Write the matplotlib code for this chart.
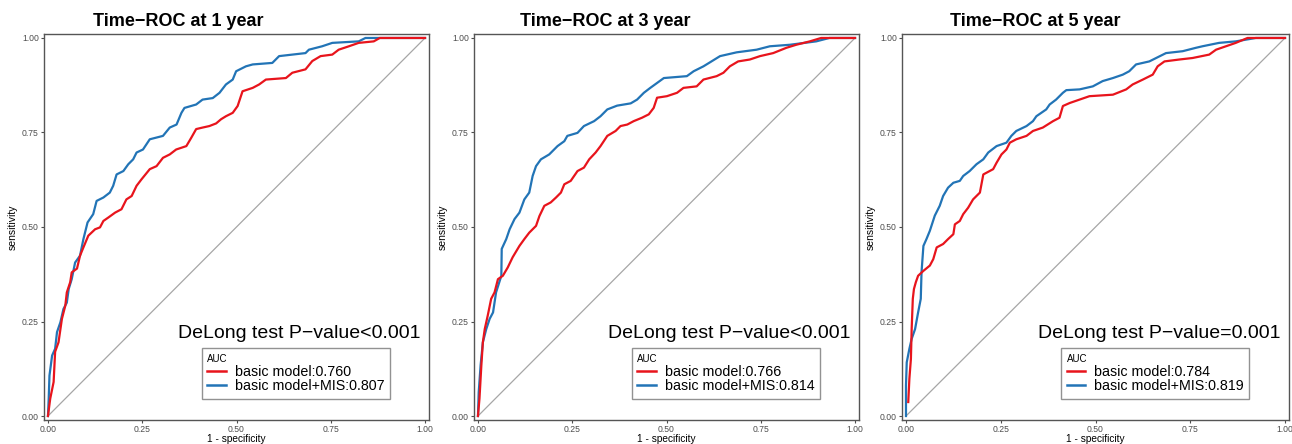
import matplotlib
matplotlib.use("Agg")
import matplotlib.pyplot as plt
from matplotlib.lines import Line2D

plt.rcParams['font.family'] = ['Liberation Sans', 'DejaVu Sans']

titles = ["Time\u2212ROC at 1 year", "Time\u2212ROC at 3 year", "Time\u2212ROC at 5 year"]
pvalue_texts = ["DeLong test P\u2212value<0.001", "DeLong test P\u2212value<0.001", "DeLong test P\u2212value=0.001"]
auc_basic = ["0.760", "0.766", "0.784"]
auc_mis = ["0.807", "0.814", "0.819"]
tick_values = [0.0, 0.25, 0.5, 0.75, 1.0]
tick_labels = ["0.00", "0.25", "0.50", "0.75", "1.00"]

# Panel 1 (1 year)
fpr_basic_1 = [0, 0.006, 0.015, 0.019, 0.028, 0.037, 0.046, 0.05, 0.059, 0.063, 0.077, 0.085, 0.094, 0.107, 0.125, 0.138, 0.147, 0.16, 0.178, 0.195, 0.208, 0.222, 0.235, 0.248, 0.27, 0.288, 0.305, 0.323, 0.34, 0.367, 0.38, 0.393, 0.41, 0.428, 0.446, 0.459, 0.472, 0.49, 0.503, 0.516, 0.543, 0.56, 0.578, 0.631, 0.648, 0.683, 0.701, 0.723, 0.754, 0.771, 0.798, 0.824, 0.864, 0.88, 1.0]
tpr_basic_1 = [0, 0.046, 0.09, 0.17, 0.195, 0.257, 0.292, 0.327, 0.354, 0.38, 0.39, 0.424, 0.446, 0.477, 0.494, 0.499, 0.516, 0.525, 0.538, 0.547, 0.573, 0.582, 0.609, 0.626, 0.653, 0.661, 0.683, 0.692, 0.705, 0.714, 0.736, 0.759, 0.763, 0.767, 0.774, 0.785, 0.793, 0.802, 0.82, 0.859, 0.868, 0.877, 0.89, 0.894, 0.908, 0.917, 0.939, 0.952, 0.956, 0.969, 0.978, 0.987, 0.991, 1.0, 1.0]
fpr_mis_1 = [0, 0.002, 0.004, 0.011, 0.019, 0.024, 0.033, 0.041, 0.05, 0.055, 0.063, 0.072, 0.085, 0.094, 0.105, 0.12, 0.129, 0.147, 0.164, 0.173, 0.182, 0.2, 0.213, 0.226, 0.235, 0.252, 0.27, 0.305, 0.323, 0.341, 0.354, 0.362, 0.393, 0.41, 0.437, 0.455, 0.472, 0.49, 0.499, 0.525, 0.543, 0.595, 0.613, 0.683, 0.692, 0.727, 0.754, 0.824, 0.842, 1.0]
tpr_mis_1 = [0, 0.046, 0.107, 0.16, 0.178, 0.222, 0.248, 0.283, 0.3, 0.336, 0.362, 0.406, 0.424, 0.468, 0.512, 0.534, 0.569, 0.578, 0.591, 0.609, 0.639, 0.648, 0.666, 0.679, 0.697, 0.705, 0.732, 0.741, 0.763, 0.771, 0.802, 0.815, 0.824, 0.837, 0.841, 0.855, 0.877, 0.89, 0.912, 0.925, 0.93, 0.934, 0.952, 0.96, 0.969, 0.978, 0.987, 0.991, 1.0, 1.0]

# Panel 2 (3 year)
fpr_basic_3 = [0, 0.004, 0.009, 0.013, 0.018, 0.026, 0.035, 0.044, 0.053, 0.066, 0.079, 0.092, 0.11, 0.123, 0.136, 0.154, 0.163, 0.176, 0.193, 0.207, 0.22, 0.229, 0.246, 0.264, 0.281, 0.295, 0.312, 0.325, 0.343, 0.365, 0.378, 0.396, 0.413, 0.435, 0.453, 0.466, 0.475, 0.501, 0.528, 0.545, 0.58, 0.598, 0.633, 0.651, 0.668, 0.69, 0.721, 0.748, 0.783, 0.818, 0.844, 0.88, 0.91, 1.0]
tpr_basic_3 = [0, 0.046, 0.134, 0.195, 0.23, 0.266, 0.31, 0.327, 0.362, 0.371, 0.393, 0.42, 0.45, 0.468, 0.485, 0.503, 0.529, 0.556, 0.565, 0.578, 0.591, 0.613, 0.622, 0.648, 0.657, 0.679, 0.697, 0.714, 0.741, 0.754, 0.767, 0.771, 0.78, 0.789, 0.798, 0.815, 0.842, 0.846, 0.855, 0.868, 0.872, 0.89, 0.899, 0.908, 0.925, 0.938, 0.943, 0.952, 0.96, 0.974, 0.982, 0.991, 1.0, 1.0]
fpr_mis_3 = [0, 0.002, 0.007, 0.013, 0.022, 0.031, 0.04, 0.048, 0.062, 0.063, 0.075, 0.084, 0.097, 0.11, 0.123, 0.136, 0.145, 0.154, 0.167, 0.189, 0.211, 0.229, 0.237, 0.264, 0.281, 0.308, 0.325, 0.343, 0.369, 0.405, 0.422, 0.44, 0.457, 0.475, 0.493, 0.554, 0.572, 0.598, 0.616, 0.642, 0.686, 0.739, 0.774, 0.827, 0.897, 0.932, 1.0]
tpr_mis_3 = [0, 0.063, 0.134, 0.195, 0.23, 0.257, 0.274, 0.327, 0.371, 0.442, 0.468, 0.494, 0.521, 0.538, 0.573, 0.591, 0.635, 0.661, 0.679, 0.692, 0.714, 0.727, 0.741, 0.749, 0.767, 0.78, 0.793, 0.811, 0.821, 0.827, 0.837, 0.855, 0.868, 0.881, 0.894, 0.899, 0.912, 0.925, 0.936, 0.952, 0.962, 0.969, 0.978, 0.982, 0.991, 1.0, 1.0]

# Panel 3 (5 year)
fpr_basic_5 = [0.006, 0.009, 0.013, 0.015, 0.018, 0.021, 0.026, 0.032, 0.046, 0.063, 0.072, 0.081, 0.098, 0.111, 0.125, 0.129, 0.142, 0.151, 0.164, 0.177, 0.195, 0.204, 0.23, 0.239, 0.252, 0.265, 0.274, 0.291, 0.318, 0.335, 0.361, 0.388, 0.405, 0.414, 0.432, 0.458, 0.484, 0.546, 0.581, 0.598, 0.625, 0.651, 0.664, 0.682, 0.721, 0.756, 0.8, 0.818, 0.844, 0.87, 0.901, 1.0]
tpr_basic_5 = [0.037, 0.099, 0.151, 0.23, 0.31, 0.336, 0.354, 0.371, 0.384, 0.398, 0.415, 0.446, 0.455, 0.468, 0.481, 0.507, 0.516, 0.534, 0.551, 0.573, 0.591, 0.639, 0.653, 0.67, 0.692, 0.705, 0.723, 0.732, 0.741, 0.754, 0.763, 0.78, 0.789, 0.82, 0.828, 0.837, 0.846, 0.85, 0.864, 0.877, 0.89, 0.903, 0.925, 0.938, 0.943, 0.947, 0.956, 0.969, 0.978, 0.987, 1.0, 1.0]
fpr_mis_5 = [0, 0.0, 0.002, 0.009, 0.015, 0.024, 0.032, 0.039, 0.041, 0.046, 0.054, 0.063, 0.076, 0.089, 0.098, 0.111, 0.125, 0.142, 0.151, 0.168, 0.186, 0.204, 0.217, 0.239, 0.265, 0.278, 0.291, 0.318, 0.335, 0.344, 0.37, 0.379, 0.396, 0.414, 0.423, 0.458, 0.493, 0.519, 0.546, 0.572, 0.589, 0.607, 0.642, 0.66, 0.686, 0.73, 0.765, 0.782, 0.826, 0.87, 0.923, 1.0]
tpr_mis_5 = [0, 0.081, 0.142, 0.178, 0.204, 0.23, 0.274, 0.31, 0.38, 0.45, 0.468, 0.49, 0.53, 0.556, 0.582, 0.604, 0.617, 0.622, 0.635, 0.648, 0.666, 0.679, 0.697, 0.714, 0.723, 0.741, 0.754, 0.767, 0.78, 0.793, 0.811, 0.824, 0.837, 0.855, 0.862, 0.864, 0.872, 0.886, 0.894, 0.903, 0.912, 0.93, 0.938, 0.947, 0.96, 0.965, 0.974, 0.978, 0.987, 0.991, 1.0, 1.0]

panels = [
    (fpr_basic_1, tpr_basic_1, fpr_mis_1, tpr_mis_1),
    (fpr_basic_3, tpr_basic_3, fpr_mis_3, tpr_mis_3),
    (fpr_basic_5, tpr_basic_5, fpr_mis_5, tpr_mis_5),
]

RED = "#E8141C"
BLUE = "#2274B6"

fig = plt.figure(figsize=(12.92, 4.44), dpi=100)
lefts = [44 / 1292, 474 / 1292, 902 / 1292]
widths = [385 / 1292, 385 / 1292, 387 / 1292]
bottom = 1 - 420 / 444
height = 386 / 444
title_x = [178, 605, 1035]

for i, (fb, tb, fm, tm) in enumerate(panels):
    ax = fig.add_axes([lefts[i], bottom, widths[i], height])
    ax.plot([0, 1], [0, 1], color="#A6A6A6", lw=0.9, zorder=1)
    ax.plot(fb, tb, color=RED, lw=1.6, zorder=3)
    ax.plot(fm, tm, color=BLUE, lw=1.6, zorder=2)
    ax.set_xlim(-0.0105, 1.0105)
    ax.set_ylim(-0.0105, 1.0105)
    ax.set_xticks(tick_values)
    ax.set_xticklabels(tick_labels)
    ax.set_yticks(tick_values)
    ax.set_yticklabels(tick_labels)
    ax.tick_params(labelsize=6.2, colors="#4D4D4D", length=2.5, width=0.8, pad=1.2)
    for s in ax.spines.values():
        s.set_color("#555555")
        s.set_linewidth(1.0)
    ax.set_xlabel("1 - specificity", fontsize=7.3, labelpad=0)
    ax.set_ylabel("sensitivity", fontsize=7.5, labelpad=3)
    ax.text(0.988, 0.217, pvalue_texts[i], fontsize=14, ha="right", va="center",
            transform=ax.transData, color="black")
    handles = [Line2D([0], [0], color=RED, lw=1.8),
               Line2D([0], [0], color=BLUE, lw=1.8)]
    labels = ["basic model:" + auc_basic[i], "basic model+MIS:" + auc_mis[i]]
    leg = ax.legend(handles, labels, title="AUC", loc="center",
                    bbox_to_anchor=(0.654, 0.12), fontsize=10.3, title_fontsize=7,
                    frameon=True, fancybox=False, handlelength=1.3, handletextpad=0.6,
                    borderpad=0.4, labelspacing=0.05, borderaxespad=0)
    leg._legend_box.align = "left"
    fr = leg.get_frame()
    fr.set_edgecolor("#777777")
    fr.set_linewidth(1.0)
    fig.text(title_x[i] / 1292, 1 - 22 / 444, titles[i], fontsize=13,
             fontweight="bold", ha="center", va="center")

fig.savefig("out.png", dpi=100)
